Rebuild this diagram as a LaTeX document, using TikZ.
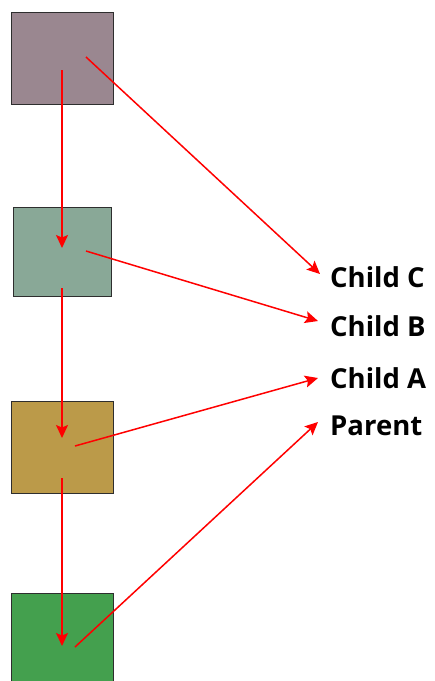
\documentclass[tikz,border=0pt]{standalone}
\usepackage{fontspec}
\setmainfont{Open Sans}
\usetikzlibrary{arrows.meta}
\definecolor{cA}{HTML}{9A8790}
\definecolor{cB}{HTML}{89A897}
\definecolor{cC}{HTML}{BB9A49}
\definecolor{cD}{HTML}{44A04E}
\definecolor{edge}{HTML}{2E2E2E}
\tikzset{
  x=1pt,y=-1pt,
  box/.style={draw=edge,line width=1.8pt,minimum width=102pt,minimum height=92pt,inner sep=0pt,anchor=north west},
  lbl/.style={anchor=base west,inner sep=0pt,font=\fontsize{27.5}{32}\selectfont\bfseries},
  arr/.style={draw=red,line width=1.5pt,-{Stealth[length=13pt,width=12pt,inset=2.5pt]}}
}
\begin{document}
\begin{tikzpicture}
\useasboundingbox (0,0) rectangle (435,681);
\node[box,fill=cA] (b1) at (10.5,11.5) {};
\node[box,fill=cB,minimum width=98pt,minimum height=89pt] (b2) at (12.5,206.5) {};
\node[box,fill=cC] (b3) at (10.5,400.5) {};
\node[box,fill=cD] (b4) at (10.5,592.5) {};
\node[lbl] (lc) at (330,287) {Child C};
\node[lbl] (lb) at (330,336) {Child B};
\node[lbl] (la) at (330,388) {Child A};
\node[lbl] (lp) at (330,435) {Parent};
\coordinate (v1s) at (62,70);
\coordinate (v1e) at (62,248);
\coordinate (v2s) at (62,288);
\coordinate (v2e) at (62,438);
\coordinate (v3s) at (62,478);
\coordinate (v3e) at (62,646);
\coordinate (d1s) at (86,57);
\coordinate (d1e) at (320,274);
\coordinate (d2s) at (86,251);
\coordinate (d2e) at (318,321);
\coordinate (d3s) at (75,446);
\coordinate (d3e) at (318,378);
\coordinate (d4s) at (75,647);
\coordinate (d4e) at (318,422);
\draw[arr] (v1s) -- (v1e);
\draw[arr] (v2s) -- (v2e);
\draw[arr] (v3s) -- (v3e);
\draw[arr] (d1s) -- (d1e);
\draw[arr] (d2s) -- (d2e);
\draw[arr] (d3s) -- (d3e);
\draw[arr] (d4s) -- (d4e);
\end{tikzpicture}
\end{document}
